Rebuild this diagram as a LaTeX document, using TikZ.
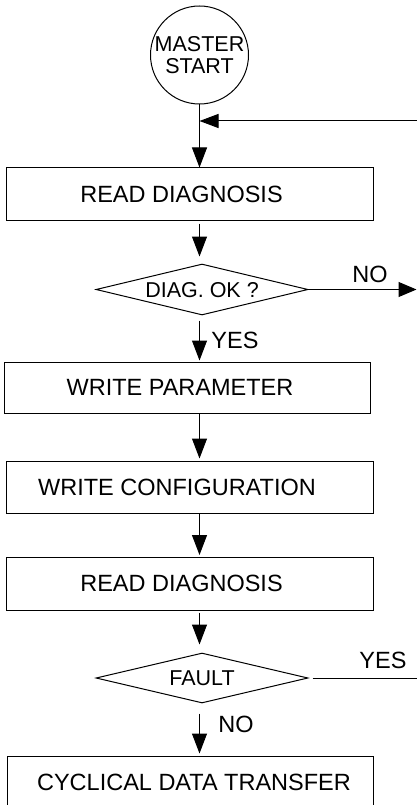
\documentclass[tikz,border=0pt]{standalone}
\usepackage{fontspec}
\setmainfont{Liberation Sans}
\usetikzlibrary{shapes.geometric,arrows.meta}
\begin{document}
\begin{tikzpicture}[x=1pt,y=-1pt,
  line width=1pt,
  boxtxt/.style={font=\fontsize{23.5}{26}\selectfont},
  smalltxt/.style={font=\fontsize{21.5}{21.5}\selectfont},
  stepbox/.style={draw,rectangle,inner sep=0pt,boxtxt,text height=16.8pt,text depth=0pt,minimum width=367pt,minimum height=52pt},
  decide/.style={draw,diamond,inner sep=0pt,aspect=4.16,smalltxt,text height=15.4pt,text depth=0pt,minimum width=212pt,minimum height=51pt},
  flow/.style={-{Triangle[length=20pt,width=15pt]}},
  lbl/.style={inner sep=0pt,boxtxt,text height=16.8pt,text depth=0pt}
]
\useasboundingbox (0,0) rectangle (417,805);
\fill[white] (0,0) rectangle (417,805);
\clip (0,0) rectangle (417,805);

\node[draw,circle,minimum size=98pt,inner sep=0pt,align=center,smalltxt] (start) at (199.5,55) {MASTER\\START};
\node[stepbox] (rd1) at (189.5,194) {READ DIAGNOSIS\hspace*{16pt}};
\node[decide] (d1) at (202,289.5) {DIAG. OK ?};
\node[stepbox,minimum width=366pt,minimum height=51pt] (wp) at (187,387.5) {WRITE PARAMETER\hspace*{14pt}};
\node[stepbox] (wc) at (189.5,487) {WRITE CONFIGURATION\hspace*{25pt}};
\node[stepbox,minimum height=53pt] (rd2) at (189.5,583.5) {READ DIAGNOSIS\hspace*{16pt}};
\node[decide,minimum height=50pt] (d2) at (202,678) {FAULT};
\node[stepbox,minimum width=366pt] (cdt) at (190,782) {\hspace*{8pt}CYCLICAL DATA TRANSFER};

\coordinate (fb) at (417,121);
\coordinate (noend) at (416.5,290);
\coordinate (yesend) at (417,680);

% main column
\draw[flow] (start.south) -- (start.south |- rd1.north);
\draw[flow,-{Triangle[length=19pt,width=14pt]}] (fb) -- (start.south |- fb);
\draw[flow,shorten <=3pt,shorten >=7pt] (start.south |- rd1.south) -- (start.south |- d1.north);
\draw[flow,shorten <=5pt,shorten >=1pt] (start.south |- d1.south) -- (start.south |- wp.north);
\draw[flow,shorten >=2pt] (start.south |- wp.south) -- (start.south |- wc.north);
\draw[flow,shorten >=1.5pt] (start.south |- wc.south) -- (start.south |- rd2.north);
\draw[flow,shorten <=2pt,shorten >=8pt] (start.south |- rd2.south) -- (start.south |- d2.north);
\draw[flow,shorten <=10pt,shorten >=2pt] (start.south |- d2.south) -- (start.south |- cdt.north);

% branches
\draw[-{Triangle[length=18pt,width=15pt]}] (d1.east) -- (d1.east -| noend);
\draw[shorten <=4pt] (d2.east) -- (d2.east -| yesend);

% labels
\node[lbl] (lno1) at (370,274) {NO};
\node[lbl] (lyes1) at (235,340) {YES};
\node[lbl] (lyes2) at (383,660) {YES};
\node[lbl] (lno2) at (236,724) {NO};
\end{tikzpicture}
\end{document}
